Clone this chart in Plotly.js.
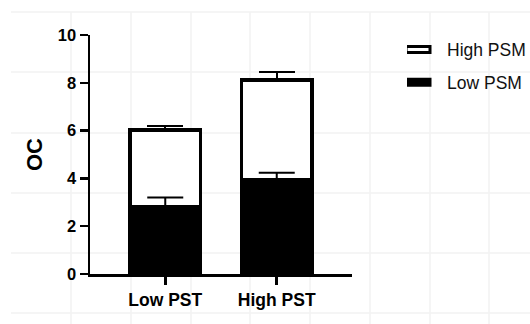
<!DOCTYPE html>
<html>
<head>
<meta charset="utf-8">
<script src="https://cdn.plot.ly/plotly-3.0.1.min.js"></script>
<style>html,body{margin:0;padding:0;background:#fff;}#chart{width:530px;height:324px;}</style>
</head>
<body>
<div id="chart"></div>
<script>
// ---- data ----
var categories = ['Low PST', 'High PST'];
var lowPSM = [2.80, 3.94];
var lowPSMErr = [0.40, 0.30];
var highPSM = [3.23, 4.18];
var highPSMErr = [0.17, 0.32];
var yTickVals = [0, 2, 4, 6, 8, 10];
var yTickText = ['0', '2', '4', '6', '8', '10'];

// ---- decoration: faint background grid of the source image (pixel positions) ----
var bgGridX = [71, 131, 191, 250, 310, 370, 430, 489];
var bgGridY = [12, 72, 133, 193, 253, 313];

var W = 530, H = 324;
var M = {l: 90, r: 178, t: 35, b: 50};
var pw = W - M.l - M.r, ph = H - M.t - M.b;
function px2x(p) { return (p - M.l) / pw; }
function py2y(p) { return (H - M.b - p) / ph; }

var shapes = [];
bgGridX.forEach(function (p) {
  shapes.push({type: 'line', xref: 'paper', yref: 'paper', layer: 'below',
    x0: px2x(p), x1: px2x(p), y0: py2y(12), y1: py2y(H),
    line: {color: '#f2f2f2', width: 1.5}});
});
bgGridY.forEach(function (p) {
  shapes.push({type: 'line', xref: 'paper', yref: 'paper', layer: 'below',
    x0: px2x(11), x1: px2x(W), y0: py2y(p), y1: py2y(p),
    line: {color: '#f2f2f2', width: 1.5}});
});

var zeros = function (a) { return a.map(function () { return 0; }); };

var traces = [
  {
    type: 'bar', name: 'Low PSM', legendgroup: 'low', legendrank: 2,
    x: categories, y: lowPSM,
    marker: {color: '#000000', line: {color: '#000000', width: 3.5}},
    hoverinfo: 'skip'
  },
  {
    type: 'bar', name: 'High PSM', legendgroup: 'high', legendrank: 1,
    x: categories, y: highPSM,
    marker: {color: '#ffffff', line: {color: '#000000', width: 3.5}},
    error_y: {type: 'data', symmetric: false, array: highPSMErr, arrayminus: zeros(highPSMErr),
      color: '#000000', thickness: 2, width: 18},
    hoverinfo: 'skip'
  },
  {
    type: 'scatter', mode: 'markers', showlegend: false, hoverinfo: 'skip',
    x: categories, y: lowPSM,
    marker: {size: 1, opacity: 0},
    error_y: {type: 'data', symmetric: false, array: lowPSMErr, arrayminus: zeros(lowPSMErr),
      color: '#000000', thickness: 2, width: 18}
  }
];

var fam = 'Liberation Sans, Arial, Helvetica, sans-serif';
var layout = {
  width: W, height: H,
  margin: {l: M.l, r: M.r, t: M.t, b: M.b, pad: 0, autoexpand: false},
  paper_bgcolor: '#ffffff', plot_bgcolor: 'rgba(0,0,0,0)',
  barmode: 'stack', bargap: 0.37,
  showlegend: true,
  shapes: shapes,
  xaxis: {
    type: 'category', range: [-0.675, 1.675], fixedrange: true,
    showline: true, linecolor: '#000', linewidth: 2.5,
    ticks: 'outside', ticklen: 8, tickwidth: 2.5, tickcolor: '#000',
    showgrid: false, zeroline: false,
    tickfont: {family: fam, size: 17.5, color: '#000', weight: 'bold'}
  },
  yaxis: {
    range: [0, 10], fixedrange: true,
    tickmode: 'array', tickvals: yTickVals, ticktext: yTickText,
    showline: true, linecolor: '#000', linewidth: 2.5,
    ticks: 'outside', ticklen: 8, tickwidth: 2.5, tickcolor: '#000',
    showgrid: false, zeroline: false,
    tickfont: {family: fam, size: 16.5, color: '#000', weight: 'bold'},
    title: {text: 'OC', standoff: 9, font: {family: fam, size: 22, color: '#000', weight: 'bold'}}
  },
  legend: {
    x: px2x(407), y: py2y(31.5), xanchor: 'left', yanchor: 'top',
    traceorder: 'grouped', tracegroupgap: 7,
    bgcolor: 'rgba(0,0,0,0)', borderwidth: 0,
    font: {family: fam, size: 17.5, color: '#111'}
  }
};

Plotly.newPlot('chart', traces, layout, {staticPlot: true, displayModeBar: false}).then(function (gd) {
  // widen the legend swatches to the flat rectangles of the reference
  var paths = gd.querySelectorAll('.legend .legendpoints path');
  paths.forEach(function (p) {
    p.setAttribute('d', 'M3,3H-21V-3H3Z');
    p.style.strokeWidth = '3px';
  });
});
</script>
</body>
</html>
